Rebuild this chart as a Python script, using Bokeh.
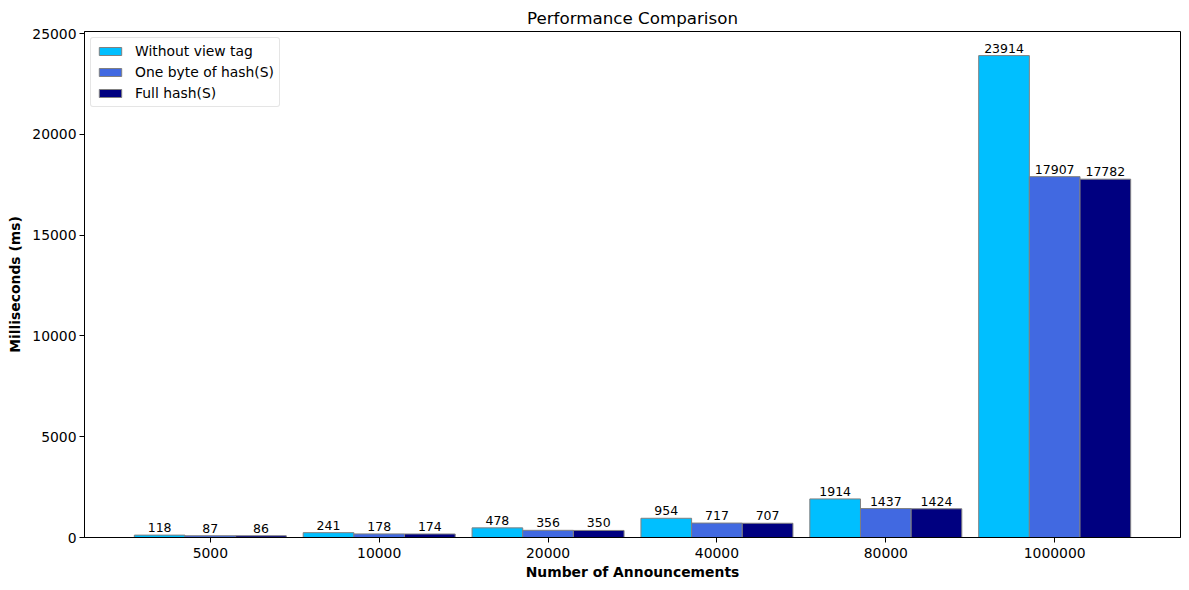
from bokeh.plotting import figure
from bokeh.models import ColumnDataSource, Range1d, FixedTicker, Legend, LegendItem, LabelSet
from bokeh.transform import dodge
from bokeh.core.properties import value
from bokeh.embed import file_html
from bokeh.resources import INLINE

categories = ["5000", "10000", "20000", "40000", "80000", "1000000"]
without_view_tag = [118, 241, 478, 954, 1914, 23914]
one_byte_hash = [87, 178, 356, 717, 1437, 17907]
full_hash = [86, 174, 350, 707, 1424, 17782]

series_names = ["Without view tag", "One byte of hash(S)", "Full hash(S)"]
series_colors = ["#00BFFF", "#4169E1", "#000080"]
series_values = [without_view_tag, one_byte_hash, full_hash]

FONT = "DejaVu Sans"
bar_w = 0.3
idx = list(range(len(categories)))

p = figure(width=1181, height=582, output_backend="svg", toolbar_location=None,
           x_range=Range1d(-0.745, len(categories) - 1 + 0.745),
           y_range=Range1d(0, max(without_view_tag) * 1.05),
           min_border_left=84, min_border_right=1, min_border_top=31, min_border_bottom=45,
           title="Performance Comparison")
p.title.align = "center"
p.title.text_font = FONT
p.title.text_font_size = "16.7px"
p.title.text_font_style = "normal"
p.title.text_color = "black"
p.title.offset = 0
p.title.standoff = 7

p.xgrid.visible = False
p.ygrid.visible = False
p.outline_line_color = "black"
p.outline_line_width = 1
p.background_fill_color = "white"

items = []
offsets = [-bar_w, 0, bar_w]
for name, color, vals, off in zip(series_names, series_colors, series_values, offsets):
    src = ColumnDataSource(dict(x=idx, top=vals, lab=[str(v) for v in vals]))
    r = p.vbar(x=dodge("x", off, range=p.x_range), top="top", width=bar_w, bottom=0,
               source=src, fill_color=color, line_color="grey", line_width=1)
    items.append(LegendItem(label=name, renderers=[r]))
    labels = LabelSet(x=dodge("x", off, range=p.x_range), y="top", text="lab", source=src,
                      text_align="center", text_baseline="bottom", y_offset=3,
                      text_font=value(FONT), text_font_size=value("12.5px"), text_color="black")
    p.add_layout(labels)

legend = Legend(items=items, location="top_left")
legend.label_text_font = FONT
legend.label_text_font_size = "13.9px"
legend.label_text_color = "black"
legend.glyph_width = 28
legend.glyph_height = 10
legend.label_height = 14
legend.label_standoff = 11
legend.spacing = 5
legend.padding = 5
legend.margin = 6
legend.border_line_color = "#cccccc"
legend.border_line_width = 1
legend.border_radius = 3
legend.background_fill_alpha = 0.8
p.add_layout(legend)

p.xaxis.ticker = FixedTicker(ticks=idx)
p.xaxis.major_label_overrides = {i: c for i, c in zip(idx, categories)}
p.yaxis.ticker = FixedTicker(ticks=[0, 5000, 10000, 15000, 20000, 25000])
p.yaxis.formatter.use_scientific = False

for ax in (p.xaxis, p.yaxis):
    ax.major_label_text_font = FONT
    ax.major_label_text_font_size = "13.9px"
    ax.major_label_text_color = "black"
    ax.axis_label_text_font = FONT
    ax.axis_label_text_font_size = "13.9px"
    ax.axis_label_text_font_style = "bold"
    ax.axis_label_text_color = "black"
    ax.axis_line_color = "black"
    ax.major_tick_line_color = "black"
    ax.major_tick_out = 5
    ax.major_tick_in = 0
    ax.minor_tick_line_color = None
    ax.major_label_standoff = 3

p.xaxis.major_label_standoff = 5
p.xaxis.axis_label = "Number of Announcements"
p.yaxis.axis_label = "Milliseconds (ms)"
p.xaxis.axis_label_standoff = 3
p.yaxis.axis_label_standoff = 6

open("out.html", "w").write(file_html(p, INLINE))
